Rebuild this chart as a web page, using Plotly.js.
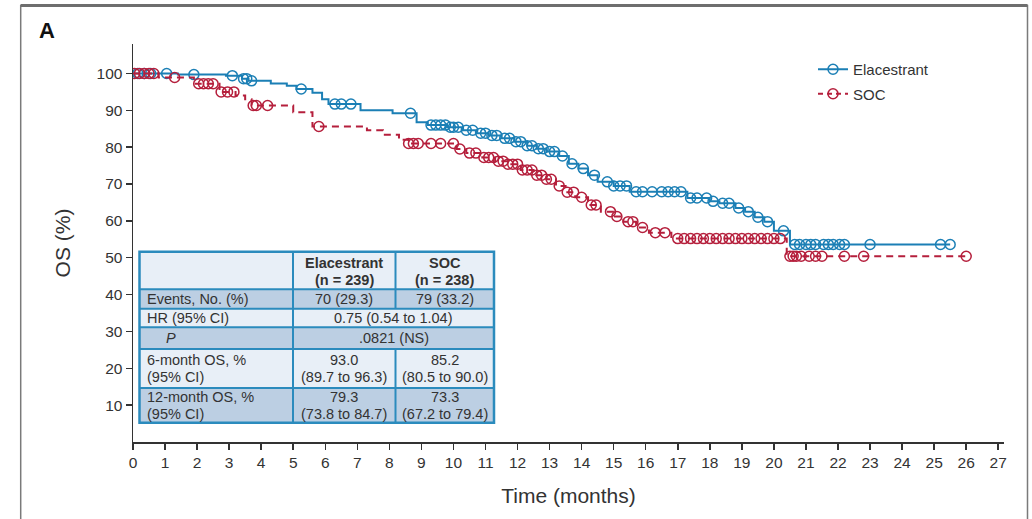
<!DOCTYPE html>
<html>
<head>
<meta charset="utf-8">
<script src="https://cdn.plot.ly/plotly-3.0.1.min.js"></script>
<style>
  html, body { margin: 0; padding: 0; background: #fff; }
  #chart { width: 1032px; height: 519px; }
</style>
</head>
<body>
<div id="chart"></div>
<script>
// Kaplan–Meier overall survival, step points (months, % alive)
const elaTimes = [0, 1.4, 2.9, 3.4, 3.6, 4.3, 4.8, 5.1, 5.6, 5.9, 6.1, 7.1, 8.1, 8.85, 9.2, 9.8, 10.3, 10.7, 11.1, 11.5, 11.9, 12.3, 12.6, 12.9, 13.3, 13.6, 13.9, 14.2, 14.5, 15.0, 15.5, 17.3, 18.0, 18.3, 18.8, 19.1, 19.4, 19.7, 20.0, 20.5];
const elaSurv  = [100, 99.7, 99.4, 98.6, 98.0, 97.3, 96.7, 95.8, 94.8, 93.0, 91.7, 90.0, 89.2, 86.8, 86.0, 85.4, 84.6, 83.8, 83.2, 82.4, 81.5, 80.4, 79.6, 78.8, 77.6, 75.5, 74.2, 72.4, 70.6, 69.5, 67.9, 66.2, 65.3, 64.8, 63.5, 62.5, 61.0, 59.8, 57.3, 53.6];

const socTimes = [0, 0.8, 1.9, 2.7, 3.2, 3.5, 3.7, 5.0, 5.6, 7.3, 7.8, 8.3, 8.6, 10.1, 10.4, 10.9, 11.3, 11.7, 12.1, 12.5, 12.9, 13.2, 13.5, 13.8, 14.2, 14.6, 15.0, 15.3, 15.7, 16.1, 16.8, 20.4];
const socSurv  = [100, 98.9, 97.2, 95.0, 94.0, 93.0, 91.3, 89.5, 85.6, 84.6, 83.4, 82.0, 81.0, 79.5, 78.4, 77.2, 76.2, 75.4, 73.8, 72.4, 71.3, 69.5, 67.8, 66.4, 64.3, 62.5, 61.2, 59.8, 58.2, 56.8, 55.2, 50.4];

// Censoring times (months)
const elaCensor = [0.15, 0.35, 0.55, 1.05, 1.9, 3.1, 3.45, 3.55, 3.7, 5.25, 6.3, 6.5, 6.8, 8.66, 9.3, 9.45, 9.6, 9.75, 9.9, 10.0, 10.15, 10.4, 10.6, 10.85, 11.0, 11.2, 11.35, 11.6, 11.75, 11.95, 12.1, 12.3, 12.45, 12.65, 12.8, 13.0, 13.15, 13.4, 13.7, 14.05, 14.4, 14.8, 15.0, 15.2, 15.4, 15.7, 15.9, 16.2, 16.5, 16.7, 16.9, 17.1, 17.4, 17.6, 17.9, 18.1, 18.4, 18.6, 18.9, 19.2, 19.5, 19.8, 20.3, 20.65, 20.8, 21.0, 21.15, 21.3, 21.55, 21.7, 21.85, 22.05, 22.2, 23.0, 25.2, 25.5];
const socCensor = [0.05, 0.2, 0.35, 0.5, 0.65, 1.3, 2.05, 2.2, 2.35, 2.5, 2.75, 2.95, 3.15, 3.75, 3.85, 4.2, 5.8, 8.6, 8.75, 8.9, 9.3, 9.6, 10.0, 10.2, 10.5, 10.7, 10.95, 11.1, 11.25, 11.4, 11.55, 11.7, 11.85, 12.0, 12.15, 12.3, 12.45, 12.6, 12.75, 12.9, 13.05, 13.3, 13.55, 13.75, 14.0, 14.3, 14.45, 14.9, 15.1, 15.45, 15.6, 15.9, 16.3, 16.6, 17.0, 17.2, 17.4, 17.6, 17.8, 18.0, 18.2, 18.4, 18.6, 18.8, 19.0, 19.2, 19.4, 19.6, 19.8, 20.0, 20.2, 20.5, 20.6, 20.7, 20.85, 21.1, 21.3, 21.5, 22.2, 22.8, 26.0];

const monthTicks = [0, 1, 2, 3, 4, 5, 6, 7, 8, 9, 10, 11, 12, 13, 14, 15, 16, 17, 18, 19, 20, 21, 22, 23, 24, 25, 26, 27];
const osTicks = [10, 20, 30, 40, 50, 60, 70, 80, 90, 100];

const armNames = ['Elacestrant', 'SOC'];

// Summary table text
const tableHeader = [['Elacestrant', '(n = 239)'], ['SOC', '(n = 238)']];
const eventsRow = ['Events, No. (%)', '70 (29.3)', '79 (33.2)'];
const hrRow = ['HR (95% CI)', '0.75 (0.54 to 1.04)'];
const pRow = ['<i>P</i>', '.0821 (NS)'];
const sixMonthRow = [['6-month OS, %', '(95% CI)'], ['93.0', '(89.7 to 96.3)'], ['85.2', '(80.5 to 90.0)']];
const twelveMonthRow = [['12-month OS, %', '(95% CI)'], ['79.3', '(73.8 to 84.7)'], ['73.3', '(67.2 to 79.4)']];

const BLUE = '#1b7fb5';
const RED = '#b51f3c';
const TEXT = '#333333';
const FONT = 'Liberation Sans, Arial, Helvetica, sans-serif';

// survival value at time t from a step curve
function survAt(times, surv, t) {
  let v = surv[0];
  for (let i = 0; i < times.length; i++) {
    if (times[i] <= t) v = surv[i]; else break;
  }
  return v;
}

// extend a step curve to the last follow-up time
function stepCurve(times, surv, censor) {
  const last = censor[censor.length - 1];
  return { x: times.concat([last]), y: surv.concat([surv[surv.length - 1]]) };
}

const elaCurve = stepCurve(elaTimes, elaSurv, elaCensor);
const socCurve = stepCurve(socTimes, socSurv, socCensor);

const markerOf = (c) => ({ symbol: 'circle-open', size: 10, color: c, line: { width: 1.5, color: c } });

const traces = [
  { x: elaCurve.x, y: elaCurve.y, mode: 'lines', line: { shape: 'hv', color: BLUE, width: 2 }, showlegend: false, hoverinfo: 'skip' },
  { x: elaCensor, y: elaCensor.map(t => survAt(elaTimes, elaSurv, t)), mode: 'markers', marker: markerOf(BLUE), showlegend: false },
  { x: socCurve.x, y: socCurve.y, mode: 'lines', line: { shape: 'hv', color: RED, width: 2, dash: '7px,5px' }, showlegend: false, hoverinfo: 'skip' },
  { x: socCensor, y: socCensor.map(t => survAt(socTimes, socSurv, t)), mode: 'markers', marker: markerOf(RED), showlegend: false },
  // legend entries
  { x: [null], y: [null], mode: 'lines+markers', name: armNames[0], legendgroup: 'a', legendrank: 1, line: { color: BLUE, width: 2 }, marker: markerOf(BLUE) },
  { x: [null], y: [null], mode: 'lines+markers', name: armNames[1], legendgroup: 'b', legendrank: 2, line: { color: RED, width: 2, dash: '5px,4px' }, marker: markerOf(RED) }
];

// plot-area geometry helpers (pixels -> paper)
const M = { l: 133, r: 28, t: 44, b: 77 };
const PW = 1032 - M.l - M.r, PH = 519 - M.t - M.b;
const xp = (px) => (px - M.l) / PW;
const yp = (py) => (519 - M.b - py) / PH;

const shapes = [];
const annotations = [];

// table geometry
const colX = [139.5, 293, 395.5, 494];
const rowY = [251.7, 289.3, 308.7, 327.3, 349, 388, 422.7];
const LIGHT = '#e8eff7', DARK = '#bccfe3', BORDER = '#2b8bbd';
const rowFill = [LIGHT, DARK, LIGHT, DARK, LIGHT, DARK];

function rect(x0, y0, x1, y1, fill, lw, lc) {
  shapes.push({ type: 'rect', xref: 'paper', yref: 'paper', x0: xp(x0), x1: xp(x1), y0: yp(y0), y1: yp(y1),
    fillcolor: fill, line: { width: lw, color: lc || BORDER }, layer: 'above' });
}
function seg(x0, y0, x1, y1, lw, col) {
  shapes.push({ type: 'line', xref: 'paper', yref: 'paper', x0: xp(x0), x1: xp(x1), y0: yp(y0), y1: yp(y1),
    line: { width: lw, color: col || BORDER }, layer: 'above' });
}
function txt(s, px, py, align, opts) {
  opts = opts || {};
  annotations.push({ text: s, xref: 'paper', yref: 'paper', x: xp(px), y: yp(py),
    xanchor: align, yanchor: 'middle', showarrow: false,
    font: { family: FONT, size: opts.size || 14.5, color: TEXT } });
}

for (let i = 0; i < 6; i++) rect(colX[0], rowY[i], colX[3], rowY[i + 1], rowFill[i], 0);
for (let i = 1; i < 6; i++) seg(colX[0], rowY[i], colX[3], rowY[i], 2);
seg(colX[1], rowY[0], colX[1], rowY[6], 2);
seg(colX[2], rowY[0], colX[2], rowY[2], 2);
seg(colX[2], rowY[4], colX[2], rowY[6], 2);
rect(colX[0], rowY[0], colX[3], rowY[6], 'rgba(0,0,0,0)', 2.5);

const c1 = colX[0] + 5;
const c2 = (colX[1] + colX[2]) / 2, c3 = (colX[2] + colX[3]) / 2, c23 = (colX[1] + colX[3]) / 2;
const mid = (i) => (rowY[i] + rowY[i + 1]) / 2;

txt('<b>' + tableHeader[0][0] + '</b>', c2, 262.7, 'center');
txt('<b>' + tableHeader[0][1] + '</b>', c2, 280, 'center');
txt('<b>' + tableHeader[1][0] + '</b>', c3, 262.7, 'center');
txt('<b>' + tableHeader[1][1] + '</b>', c3, 280, 'center');
txt(eventsRow[0], c1, mid(1), 'left');
txt(eventsRow[1], c2, mid(1), 'center');
txt(eventsRow[2], c3, mid(1), 'center');
txt(hrRow[0], c1, mid(2), 'left');
txt(hrRow[1], c23, mid(2), 'center');
txt(pRow[0], c1 + 19, mid(3), 'left');
txt(pRow[1], c23, mid(3), 'center');
[[sixMonthRow, 4], [twelveMonthRow, 5]].forEach(([row, i]) => {
  const yA = mid(i) - 8.7, yB = mid(i) + 8.7;
  txt(row[0][0], c1, yA, 'left'); txt(row[0][1], c1, yB, 'left');
  txt(row[1][0], c2, yA, 'center'); txt(row[1][1], c2, yB, 'center');
  txt(row[2][0], c3, yA, 'center'); txt(row[2][1], c3, yB, 'center');
});

// panel label and figure frame
annotations.push({ text: '<b>A</b>', xref: 'paper', yref: 'paper', x: xp(37), y: yp(31), xanchor: 'left', yanchor: 'middle',
  showarrow: false, font: { family: 'Liberation Sans Narrow, Liberation Sans, Arial, sans-serif', size: 22, color: '#111' } });
shapes.push({ type: 'rect', xref: 'paper', yref: 'paper', x0: xp(20.7), x1: xp(1027.5), y0: yp(5.5), y1: yp(540),
  line: { width: 1.5, color: '#7a7a7a' }, fillcolor: 'rgba(0,0,0,0)', layer: 'below' });
shapes.push({ type: 'line', xref: 'paper', yref: 'paper', x0: xp(20.7), x1: xp(1027.5), y0: yp(5.5), y1: yp(5.5),
  line: { width: 3, color: '#6e6e6e' }, layer: 'below' });

const layout = {
  width: 1032, height: 519,
  margin: M,
  paper_bgcolor: '#fff', plot_bgcolor: '#fff',
  font: { family: FONT, color: TEXT, size: 15 },
  showlegend: true,
  legend: { x: xp(813), y: yp(53), xanchor: 'left', yanchor: 'top', bgcolor: 'rgba(0,0,0,0)',
    font: { family: FONT, size: 15, color: TEXT }, tracegroupgap: 2, traceorder: 'grouped' },
  xaxis: {
    range: [0, 27.18], tickvals: monthTicks, ticktext: monthTicks.map(String),
    ticks: 'outside', ticklen: 6, tickwidth: 1.5, tickcolor: '#333',
    showline: true, linewidth: 1.5, linecolor: '#333', showgrid: false, zeroline: false,
    tickfont: { family: FONT, size: 15.5, color: TEXT },
    title: { text: 'Time (months)', font: { family: FONT, size: 21, color: TEXT }, standoff: 18 },
    fixedrange: true
  },
  yaxis: {
    range: [0, 108], tickvals: osTicks, ticktext: osTicks.map(String),
    ticks: 'outside', ticklen: 6, tickwidth: 1.5, tickcolor: '#333',
    showline: true, linewidth: 1.5, linecolor: '#333', showgrid: false, zeroline: false,
    tickfont: { family: FONT, size: 15.5, color: TEXT },
    title: { text: 'OS (%)', font: { family: FONT, size: 21, color: TEXT }, standoff: 20 },
    fixedrange: true
  },
  shapes: shapes,
  annotations: annotations
};

Plotly.newPlot('chart', traces, layout, { displayModeBar: false, staticPlot: true });
</script>
</body>
</html>
